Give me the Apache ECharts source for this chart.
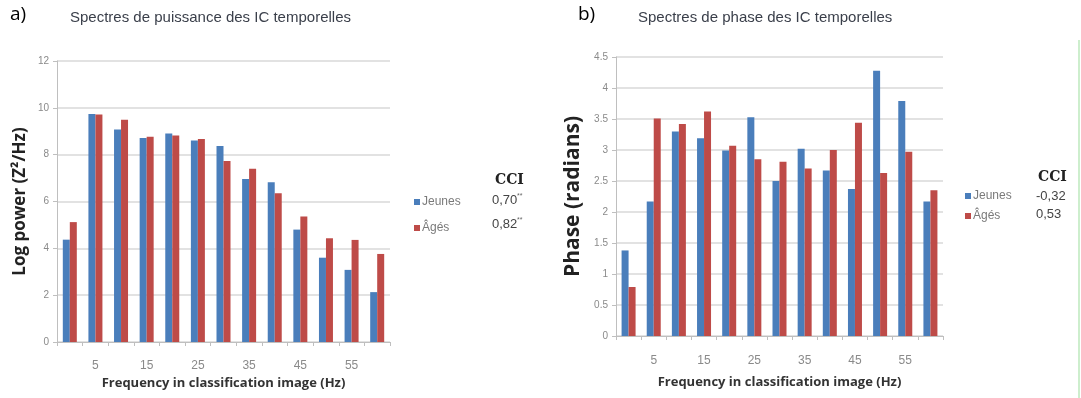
<!DOCTYPE html>
<html>
<head>
<meta charset="utf-8">
<script src="https://cdn.jsdelivr.net/npm/echarts@6/dist/echarts.min.js"></script>
<style>
html,body{margin:0;padding:0;background:#fff;}
#c{width:1081px;height:398px;}
</style>
</head>
<body>
<div id="c"></div>
<script>
// ---- data ----
var categories = ['0','5','10','15','20','25','30','35','40','45','50','55','60'];
var powerJeunes = [4.37, 9.74, 9.08, 8.71, 8.9, 8.6, 8.37, 6.96, 6.82, 4.8, 3.6, 3.08, 2.13];
var powerAges   = [5.12, 9.72, 9.49, 8.77, 8.82, 8.67, 7.73, 7.4, 6.35, 5.36, 4.43, 4.36, 3.76];
var phaseJeunes = [1.38, 2.17, 3.3, 3.19, 2.99, 3.53, 2.5, 3.02, 2.67, 2.37, 4.28, 3.79, 2.17];
var phaseAges   = [0.79, 3.51, 3.42, 3.62, 3.07, 2.85, 2.81, 2.7, 3.0, 3.44, 2.63, 2.97, 2.35];
var seriesNames = ['Jeunes', 'Âgés'];
var cciPower = ['0,70', '0,82'];
var cciPowerMark = '**';
var cciPhase = ['-0,32', '0,53'];

var BLUE = '#4a7ebb', RED = '#be4b48';
var NARROW = '"Liberation Sans Narrow","Liberation Sans",sans-serif';
var GRID_COLOR = '#d9d9d9';

function xAxisOpt(gridIndex, margin, nameGap) {
  return {
    type: 'category', gridIndex: gridIndex, data: categories, boundaryGap: true,
    axisLine: {lineStyle: {color: '#bfbfbf', width: 1}},
    axisTick: {show: true, alignWithLabel: false, interval: 0, length: 4, lineStyle: {color: '#bfbfbf'}},
    axisLabel: {interval: function (i) { return i % 2 === 1; }, color: '#8a8a8a', fontSize: 12, fontFamily: NARROW, margin: margin},
    name: 'Frequency in classification image (Hz)', nameLocation: 'middle', nameGap: nameGap,
    nameTextStyle: {fontFamily: '"Open Sans",sans-serif', fontWeight: 'bold', fontSize: 13, color: '#333'}
  };
}
function yAxisOpt(gridIndex, max, interval, name, nameSize, nameGap) {
  return {
    type: 'value', gridIndex: gridIndex, min: 0, max: max, interval: interval,
    axisLine: {show: true, lineStyle: {color: '#bfbfbf'}},
    axisTick: {show: true, length: 4, lineStyle: {color: '#bfbfbf'}},
    splitLine: {lineStyle: {color: GRID_COLOR, width: 1.5}},
    axisLabel: {color: '#8a8a8a', fontSize: 10, fontFamily: NARROW, margin: 8},
    name: name, nameLocation: 'middle', nameGap: nameGap,
    nameTextStyle: {fontFamily: '"Open Sans",sans-serif', fontWeight: 'bold', fontSize: nameSize, color: '#222'}
  };
}
function barSeries(name, data, color, xi) {
  return {
    type: 'bar', name: name, data: data, xAxisIndex: xi, yAxisIndex: xi,
    barWidth: 7, barGap: '0%', itemStyle: {color: color}, animation: false
  };
}

var chart = echarts.init(document.getElementById('c'));
chart.setOption({
  animation: false,
  grid: [
    {left: 57, right: 691, top: 61, bottom: 56},
    {left: 616, right: 138, top: 57, bottom: 62}
  ],
  xAxis: [xAxisOpt(0, 18, 34), xAxisOpt(1, 19, 40)],
  yAxis: [
    yAxisOpt(0, 12, 2, 'Log power (Z²/Hz)', 17, 28),
    yAxisOpt(1, 4.5, 0.5, 'Phase (radians)', 21, 32)
  ],
  legend: [
    {data: seriesNames, orient: 'vertical', left: 409, top: 191, itemWidth: 6, itemHeight: 6, itemGap: 14,
     icon: 'rect', selectedMode: false, textStyle: {fontFamily: NARROW, fontSize: 12, color: '#7a7a7a', padding: [0,0,0,-3]}},
    {data: seriesNames, orient: 'vertical', left: 960, top: 185, itemWidth: 6, itemHeight: 6, itemGap: 8,
     icon: 'rect', selectedMode: false, textStyle: {fontFamily: NARROW, fontSize: 12, color: '#7a7a7a', padding: [0,0,0,-3]}}
  ],
  series: [
    barSeries(seriesNames[0], powerJeunes, BLUE, 0),
    barSeries(seriesNames[1], powerAges, RED, 0),
    barSeries(seriesNames[0], phaseJeunes, BLUE, 1),
    barSeries(seriesNames[1], phaseAges, RED, 1)
  ],
  graphic: [
    {type: 'text', left: 10, top: 5, style: {text: 'a)', fontFamily: '"Open Sans",sans-serif', fontSize: 19, fill: '#000'}},
    {type: 'text', left: 70, top: 10, style: {text: 'Spectres de puissance des IC temporelles', fontFamily: NARROW, fontSize: 15, fill: '#3a3f4a'}},
    {type: 'text', left: 578, top: 5, style: {text: 'b)', fontFamily: '"Open Sans",sans-serif', fontSize: 19, fill: '#000'}},
    {type: 'text', left: 638, top: 10, style: {text: 'Spectres de phase des IC temporelles', fontFamily: NARROW, fontSize: 15, fill: '#3a3f4a'}},
    {type: 'text', left: 495, top: 173, style: {text: 'CCI', fontFamily: '"DejaVu Serif",serif', fontWeight: 'bold', fontSize: 14, fill: '#222'}},
    {type: 'text', left: 492, top: 194, style: {text: cciPower[0], fontFamily: NARROW, fontSize: 13, fill: '#444'}},
    {type: 'text', left: 517, top: 193, style: {text: cciPowerMark, fontFamily: NARROW, fontSize: 7, fill: '#666'}},
    {type: 'text', left: 492, top: 218, style: {text: cciPower[1], fontFamily: NARROW, fontSize: 13, fill: '#444'}},
    {type: 'text', left: 517, top: 217, style: {text: cciPowerMark, fontFamily: NARROW, fontSize: 7, fill: '#666'}},
    {type: 'text', left: 1038, top: 170, style: {text: 'CCI', fontFamily: '"DejaVu Serif",serif', fontWeight: 'bold', fontSize: 14, fill: '#222'}},
    {type: 'text', left: 1036, top: 187, style: {
      text: cciPhase[0] + '\n' + cciPhase[1],
      fontFamily: NARROW, fontSize: 13, fill: '#444', lineHeight: 18}},
    {type: 'line', shape: {x1: 1079, y1: 40, x2: 1079, y2: 398}, style: {stroke: '#cdeecd', lineWidth: 2}}
  ]
});
</script>
</body>
</html>
